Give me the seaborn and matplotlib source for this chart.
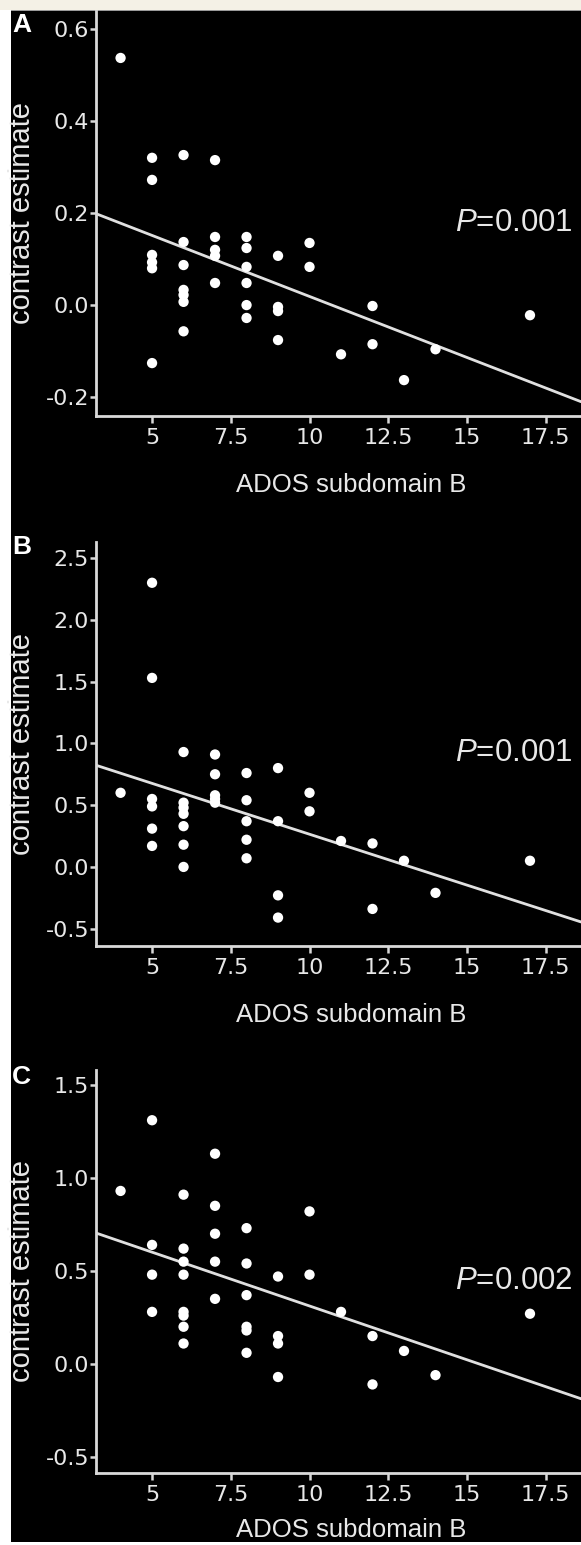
import numpy as np
import pandas as pd
import seaborn as sns
import matplotlib.pyplot as plt
from matplotlib.patches import Rectangle
from matplotlib.ticker import FormatStrFormatter

# ADOS subdomain B scores and contrast estimates
ados_a = [4, 5, 5, 5, 5, 5, 5, 6, 6, 6, 6, 6, 6, 6, 7, 7, 7, 7, 7,
          8, 8, 8, 8, 8, 8, 9, 9, 9, 9, 10, 10, 11, 12, 12, 13, 14, 17]
contrast_a = [0.537, 0.32, 0.272, 0.109, 0.093, 0.08, -0.126,
              0.326, 0.137, 0.087, 0.033, 0.022, 0.007, -0.057,
              0.315, 0.148, 0.12, 0.107, 0.048,
              0.148, 0.124, 0.083, 0.048, 0.0, -0.028,
              0.107, -0.004, -0.013, -0.076,
              0.135, 0.083, -0.107, -0.002, -0.085, -0.163, -0.096, -0.022]

ados_b = [4, 5, 5, 5, 5, 5, 5, 6, 6, 6, 6, 6, 6, 6, 7, 7, 7, 7, 7,
          8, 8, 8, 8, 8, 9, 9, 9, 9, 10, 10, 11, 12, 12, 13, 14, 17]
contrast_b = [0.60, 2.30, 1.53, 0.55, 0.49, 0.31, 0.17,
              0.93, 0.52, 0.48, 0.43, 0.33, 0.18, 0.00,
              0.91, 0.75, 0.58, 0.55, 0.52,
              0.76, 0.54, 0.37, 0.22, 0.07,
              0.80, 0.37, -0.23, -0.41,
              0.60, 0.45, 0.21, 0.19, -0.34, 0.05, -0.21, 0.05]

ados_c = [4, 5, 5, 5, 5, 6, 6, 6, 6, 6, 6, 6, 6, 7, 7, 7, 7, 7,
          8, 8, 8, 8, 8, 8, 9, 9, 9, 9, 10, 10, 11, 12, 12, 13, 14, 17]
contrast_c = [0.93, 1.31, 0.64, 0.48, 0.28,
              0.91, 0.62, 0.55, 0.48, 0.28, 0.26, 0.20, 0.11,
              1.13, 0.85, 0.70, 0.55, 0.35,
              0.73, 0.54, 0.37, 0.20, 0.18, 0.06,
              0.47, 0.15, 0.11, -0.07,
              0.82, 0.48, 0.28, 0.15, -0.11, 0.07, -0.06, 0.27]

panel_labels = ['A', 'B', 'C']
p_values = ['0.001', '0.001', '0.002']
y_ticks = [[-0.2, 0.0, 0.2, 0.4, 0.6],
           [-0.5, 0.0, 0.5, 1.0, 1.5, 2.0, 2.5],
           [-0.5, 0.0, 0.5, 1.0, 1.5]]
y_limits = [(-0.241, 0.639), (-0.64, 2.63), (-0.586, 1.58)]
x_ticks = [5, 7.5, 10, 12.5, 15, 17.5]
x_limits = (3.22, 18.62)

sns.set_style('ticks')
plt.rcParams['font.family'] = ['Liberation Sans', 'DejaVu Sans']
plt.rcParams['mathtext.fontset'] = 'custom'
plt.rcParams['mathtext.it'] = 'Liberation Sans:italic'
plt.rcParams['mathtext.rm'] = 'Liberation Sans'

W, H = 581, 1545
fig = plt.figure(figsize=(W / 100, H / 100), dpi=100, facecolor='black')

# page frame around the black figure
fig.patches.append(Rectangle((0, 1 - 10 / H), 1, 10 / H, transform=fig.transFigure,
                             facecolor='#f4f1e6', edgecolor='none', zorder=-1))
fig.patches.append(Rectangle((0, 1 - 11 / H), 1, 1.2 / H, transform=fig.transFigure,
                             facecolor='#9a9a9a', edgecolor='none', zorder=-1))
fig.patches.append(Rectangle((0, 0), 11 / W, 1 - 10 / H, transform=fig.transFigure,
                             facecolor='white', edgecolor='none', zorder=-1))
fig.patches.append(Rectangle((0, 0), 1, 3 / H, transform=fig.transFigure,
                             facecolor='white', edgecolor='none', zorder=-1))

# axes boxes in pixels: (top, bottom)
boxes = [(11, 416), (542, 946), (1070, 1473)]
xlabel_y = [-0.17, -0.171, -0.142]
letter_top = [13, 535, 1065]
left_px = 96

spine_col = '#d9d9d9'
text_col = '#e8e8e8'

panels = [(ados_a, contrast_a), (ados_b, contrast_b), (ados_c, contrast_c)]

for i, (xs, ys) in enumerate(panels):
    top, bot = boxes[i]
    ax = fig.add_axes([left_px / W, 1 - bot / H, 1 - left_px / W, (bot - top) / H])
    ax.set_facecolor('black')
    df = pd.DataFrame({'ADOS subdomain B': xs, 'contrast estimate': ys})

    ax.set_xlim(*x_limits)
    ax.set_ylim(*y_limits[i])
    sns.regplot(x='ADOS subdomain B', y='contrast estimate', data=df, ax=ax,
                ci=None, truncate=False,
                scatter_kws=dict(s=55, color='white', edgecolor='none', alpha=1, zorder=3),
                line_kws=dict(color='#e0e0e0', lw=2, zorder=2))
    ax.set_xlim(*x_limits)
    ax.set_ylim(*y_limits[i])

    ax.set_xticks(x_ticks)
    ax.set_yticks(y_ticks[i])
    ax.xaxis.set_major_formatter(FormatStrFormatter('%g'))
    ax.yaxis.set_major_formatter(FormatStrFormatter('%.1f'))
    for lab in ax.get_xticklabels() + ax.get_yticklabels():
        lab.set_fontfamily('DejaVu Sans')
    ax.tick_params(axis='both', colors=spine_col, labelcolor=text_col,
                   labelsize=16, width=1.8, length=4, direction='out')
    ax.tick_params(axis='y', pad=1)
    ax.tick_params(axis='x', pad=3.5, length=5)

    for side in ['top', 'right']:
        ax.spines[side].set_visible(False)
    for side in ['left', 'bottom']:
        ax.spines[side].set_color(spine_col)
        ax.spines[side].set_linewidth(2)

    ax.set_xlabel('ADOS subdomain B', fontsize=18.5, color=text_col)
    ax.set_ylabel('contrast estimate', fontsize=21, color=text_col)
    ax.xaxis.set_label_coords(0.526, xlabel_y[i])
    ax.xaxis.label.set_va('center')
    ax.yaxis.set_label_coords(-0.152, 0.5)
    ax.yaxis.label.set_va('center')

    ax.text(0.9835, 0.477, '$P$=' + p_values[i], transform=ax.transAxes,
            ha='right', va='center', fontsize=22.5, color=text_col)

    fig.text(12 / W, 1 - letter_top[i] / H, panel_labels[i], ha='left', va='top',
             fontsize=19, fontweight='bold', color='white')

fig.savefig('out.png', dpi=100, facecolor=fig.get_facecolor())
